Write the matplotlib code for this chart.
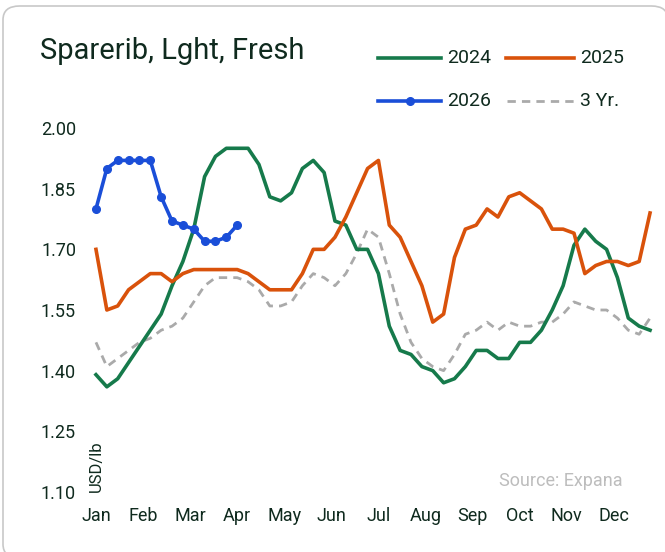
import numpy as np
import matplotlib
matplotlib.use("Agg")
import matplotlib.pyplot as plt
from matplotlib.lines import Line2D
from matplotlib.patches import FancyBboxPatch

plt.rcParams['font.family'] = ['Roboto', 'DejaVu Sans']

# weekly prices, USD/lb
y2024 = [1.39, 1.36, 1.38, 1.42, 1.46, 1.50, 1.54, 1.61, 1.67, 1.75,
         1.88, 1.93, 1.95, 1.95, 1.95, 1.91, 1.83, 1.82, 1.84, 1.90,
         1.92, 1.89, 1.77, 1.76, 1.70, 1.70, 1.64, 1.51, 1.45, 1.44,
         1.41, 1.40, 1.37, 1.38, 1.41, 1.45, 1.45, 1.43, 1.43, 1.47,
         1.47, 1.50, 1.55, 1.61, 1.71, 1.75, 1.72, 1.70, 1.63, 1.53,
         1.51, 1.50]
y2025 = [1.70, 1.55, 1.56, 1.60, 1.62, 1.64, 1.64, 1.62, 1.64, 1.65,
         1.65, 1.65, 1.65, 1.65, 1.64, 1.62, 1.60, 1.60, 1.60, 1.64,
         1.70, 1.70, 1.73, 1.78, 1.84, 1.90, 1.92, 1.76, 1.73, 1.67,
         1.61, 1.52, 1.54, 1.68, 1.75, 1.76, 1.80, 1.78, 1.83, 1.84,
         1.82, 1.80, 1.75, 1.75, 1.74, 1.64, 1.66, 1.67, 1.67, 1.66,
         1.67, 1.79]
y2026 = [1.80, 1.90, 1.92, 1.92, 1.92, 1.92, 1.83, 1.77, 1.76, 1.75,
         1.72, 1.72, 1.73, 1.76]
y3yr = [1.47, 1.41, 1.43, 1.45, 1.47, 1.48, 1.50, 1.51, 1.53, 1.57,
        1.61, 1.63, 1.63, 1.63, 1.62, 1.60, 1.56, 1.56, 1.57, 1.61,
        1.64, 1.63, 1.61, 1.64, 1.69, 1.75, 1.73, 1.64, 1.54, 1.47,
        1.43, 1.41, 1.40, 1.44, 1.49, 1.50, 1.52, 1.50, 1.52, 1.51,
        1.51, 1.52, 1.52, 1.54, 1.57, 1.56, 1.55, 1.55, 1.53, 1.50,
        1.49, 1.53]
months = ['Jan', 'Feb', 'Mar', 'Apr', 'May', 'Jun',
          'Jul', 'Aug', 'Sep', 'Oct', 'Nov', 'Dec']
yticks = [1.10, 1.25, 1.40, 1.55, 1.70, 1.85, 2.00]

GREEN = '#167a4b'
ORANGE = '#d9520b'
BLUE = '#1a4ed8'
GRAY = '#aaaaaa'
TEXT = '#0f2a1e'

W, H = 665, 552
fig = plt.figure(figsize=(W / 100, H / 100), dpi=100)

# rounded card border
card = FancyBboxPatch((3 / W, -6 / H), (668 - 3) / W, (H + 6 - 6) / H,
                      boxstyle='round,pad=0,rounding_size=0.025',
                      transform=fig.transFigure, facecolor='white',
                      edgecolor='#c8c8c8', linewidth=1.2, zorder=-5)
fig.add_artist(card)

ax = fig.add_axes([90 / W, 1 - 500 / H, (656 - 90) / W, (500 - 120) / H])
ax.patch.set_alpha(0)
weeks = np.arange(52)
ax.plot(weeks, y3yr, color=GRAY, lw=2, ls=(0, (3, 2.2)))
ax.plot(weeks, y2024, color=GREEN, lw=2.6)
ax.plot(weeks, y2025, color=ORANGE, lw=2.6)
ax.plot(np.arange(len(y2026)), y2026, color=BLUE, lw=2.6,
        marker='o', ms=5.5)

ax.set_xlim(-0.55, 51.55)
ax.set_ylim(1.08, 2.02)
ax.set_xticks(np.arange(12) * 52 / 12)
ax.set_xticklabels(months)
ax.set_yticks(yticks)
ax.set_yticklabels([f'{v:.2f}' for v in yticks])
ax.tick_params(length=0, labelsize=13, colors=TEXT)
ax.tick_params(axis='x', pad=5)
ax.tick_params(axis='y', pad=10)
for s in ax.spines.values():
    s.set_visible(False)

ax.text(0, 1.10, 'USD/lb', rotation=90, ha='center', va='bottom',
        fontsize=12, color=TEXT)
fig.text(623 / W, 1 - 481 / H, 'Source: Expana', ha='right', va='center',
         fontsize=13, color='#bdbdbd')

fig.text(40 / W, 1 - 51 / H, 'Sparerib, Lght, Fresh', ha='left',
         va='center', fontsize=21, color=TEXT)

# legend
def legend_entry(x0, x1, y, label, **kw):
    yy = 1 - y / H
    fig.add_artist(Line2D([x0 / W, x1 / W], [yy, yy], **kw))
    fig.text((x1 + 6) / W, yy, label, ha='left', va='center',
             fontsize=14, color=TEXT)

legend_entry(378, 441, 58, '2024', color=GREEN, lw=2.6)
legend_entry(506, 574, 58, '2025', color=ORANGE, lw=2.6)
legend_entry(378, 441, 101, '2026', color=BLUE, lw=2.6)
fig.add_artist(Line2D([410 / W], [1 - 101 / H], color=BLUE, marker='o',
                      ms=5.5, lw=0))
legend_entry(507, 574, 101, '3 Yr.', color=GRAY, lw=2, ls=(0, (3, 2.2)))

fig.savefig('out.png', dpi=100)
